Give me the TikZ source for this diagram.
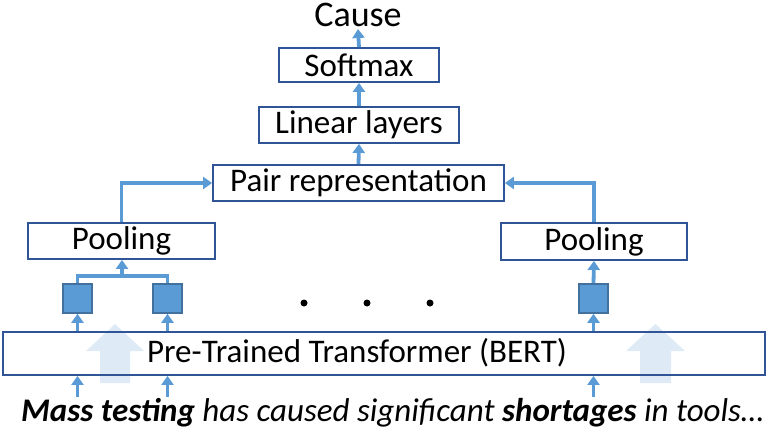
\documentclass[tikz,border=0pt]{standalone}
\usepackage{fontspec}
\setmainfont{Carlito}
\usetikzlibrary{arrows.meta,positioning}
\definecolor{boxline}{HTML}{2F5597}
\definecolor{flowblue}{HTML}{5B9BD5}
\definecolor{cellline}{HTML}{41719C}
\definecolor{bigflow}{HTML}{DEEBF7}

\begin{document}
\begin{tikzpicture}[x=1pt,y=-1pt,
    layer/.style={draw=boxline, line width=1.8pt, inner sep=0pt, font=\fontsize{33}{38}\selectfont},
    cell/.style={draw=cellline, fill=flowblue, line width=1.6pt, minimum size=29pt, inner sep=0pt},
    flow/.style={flowblue, line width=3.8pt, -{Triangle[width=12pt,length=9pt]}},
    bigarrow/.style={fill=bigflow, draw=none},
    dot/.style={circle, fill=black, inner sep=0pt, minimum size=7pt}]
        \useasboundingbox (0,0) rectangle (774,432);
        % Big input arrows (behind the encoder)
        \fill[bigarrow] (100,383) -- (100,351) -- (86,351) -- (115,324) -- (144,351) -- (130,351) -- (130,383) -- cycle;
        \fill[bigarrow] (640,383) -- (640,351) -- (626,351) -- (655.5,324) -- (685,351) -- (671,351) -- (671,383) -- cycle;
        % Encoder
        \node[layer, minimum width=762pt, minimum height=43pt] (bert) at (384,353.5) {};
        \node[font=\fontsize{33}{38}\selectfont, inner sep=0pt] (bertlabel) at (357,353) {Pre-Trained Transformer (BERT)};
        % Token vectors
        \node[cell] (cellA) at (77.5,298.5) {};
        \node[cell] (cellB) at (167.5,298.5) {};
        \node[cell] (cellC) at (593.5,298.5) {};
        \foreach \x [count=\i] in {304,367,430}
          \node[dot] (dot\i) at (\x,303) {};
        % Upper layers
        \node[layer, minimum width=187pt, minimum height=36pt] (poolL) at (121.5,241) {Pooling};
        \node[layer, minimum width=186pt, minimum height=37pt] (poolR) at (594,241.5) {Pooling};
        \node[layer, minimum width=291pt, minimum height=36pt] (pair) at (358.5,183) {Pair representation};
        \node[layer, minimum width=200pt, minimum height=36pt] (linear) at (359,125) {Linear layers};
        \node[layer, minimum width=160pt, minimum height=34pt] (softmax) at (359,65) {Softmax};
        \node[font=\fontsize{36}{40}\selectfont, inner sep=0pt, anchor=base] (cause) at (358,26) {Cause};
        % Input sentence
        \node[font=\fontsize{33}{38}\selectfont\itshape, inner sep=0pt, anchor=base] (sentence) at (392.5,421)
          {\textbf{Mass testing} has caused significant \textbf{shortages} in tools…};
        \coordinate (tokA) at (77.5,397);
        \coordinate (tokB) at (167.5,397);
        \coordinate (tokC) at (593.5,397);
        \coordinate (merge) at (122,276);
        % Connectors
        \foreach \t in {tokA,tokB,tokC}
          \draw[flow] (\t) -- (\t |- bert.south);
        \draw[flow] (cellA |- bert.north) -- (cellA.south);
        \draw[flow] (cellB |- bert.north) -- (cellB.south);
        \draw[flow] (cellC |- bert.north) -- (cellC.south);
        \draw[flowblue, line width=3.8pt] (cellA.north) |- (merge) -| (cellB.north);
        \draw[flow] (merge) -- (merge |- poolL.south);
        \draw[flow] (cellC.north) -- (poolR.south);
        \draw[flow] (poolL.north) |- (pair.west);
        \draw[flow] (poolR.north) |- (pair.east);
        \draw[flow] (pair.north) -- (linear.south);
        \draw[flow] (linear.north) -- (softmax.south);
        \draw[flow] (softmax.north) -- (cause.north |- 0,29);
      \end{tikzpicture}
\end{document}
